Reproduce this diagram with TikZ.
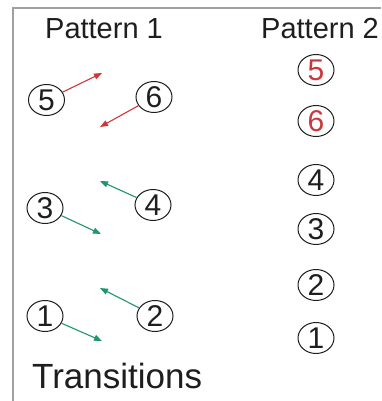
\documentclass[tikz,border=0pt]{standalone}
\usepackage{fontspec}
\setmainfont{Liberation Sans}
\usetikzlibrary{shapes.geometric,arrows.meta}
\definecolor{frame}{RGB}{160,160,160}
\definecolor{tred}{RGB}{205,55,60}
\definecolor{tgreen}{RGB}{30,150,110}
\definecolor{ink}{RGB}{30,30,30}
\tikzset{
  state/.style={ellipse,draw=ink,line width=1pt,minimum width=36pt,minimum height=31pt,inner sep=0pt,
    font=\fontsize{30}{30}\selectfont,text=ink},
  redstate/.style={state,text=tred},
  title/.style={font=\fontsize{29}{29}\selectfont,text=ink,anchor=base},
  trans/.style={line width=1.1pt,-{Triangle[length=8pt,width=6pt]}},
}
\begin{document}
\begin{tikzpicture}[x=1pt,y=-1pt]
\useasboundingbox[fill=white] (0,0) rectangle (381,401);
\draw[frame,line width=2pt] (13,401) -- (13,8) -- (381,8);
\node[title] (t1) at (104,39) {Pattern 1};
\node[title] (t2) at (320,39) {Pattern 2};
\node[font=\fontsize{35}{35}\selectfont,text=ink,anchor=base west,inner sep=0pt] (tr) at (32,388) {Transitions};
% pattern 1
\node[state] (a5) at (46.5,100) {5};
\node[state] (a6) at (154,97) {6};
\node[state] (a3) at (45,208) {3};
\node[state] (a4) at (153,205) {4};
\node[state] (a1) at (45,316) {1};
\node[state] (a2) at (155,316) {2};
\coordinate (e5) at (102,73);
\coordinate (e6) at (100,127);
\coordinate (e3) at (101,234);
\coordinate (e4) at (100,181);
\coordinate (e1) at (102,341);
\coordinate (e2) at (100,288);
\draw[trans,tred] (a5) -- (e5);
\draw[trans,tred] (a6) -- (e6);
\draw[trans,tgreen] (a3) -- (e3);
\draw[trans,tgreen] (a4) -- (e4);
\draw[trans,tgreen] (a1) -- (e1);
\draw[trans,tgreen] (a2) -- (e2);
% pattern 2
\node[redstate] (b5) at (316,70) {5};
\node[redstate] (b6) at (316,121) {6};
\node[state] (b4) at (316,180) {4};
\node[state] (b3) at (316,229) {3};
\node[state] (b2) at (316,285) {2};
\node[state] (b1) at (316,338) {1};
\end{tikzpicture}
\end{document}
